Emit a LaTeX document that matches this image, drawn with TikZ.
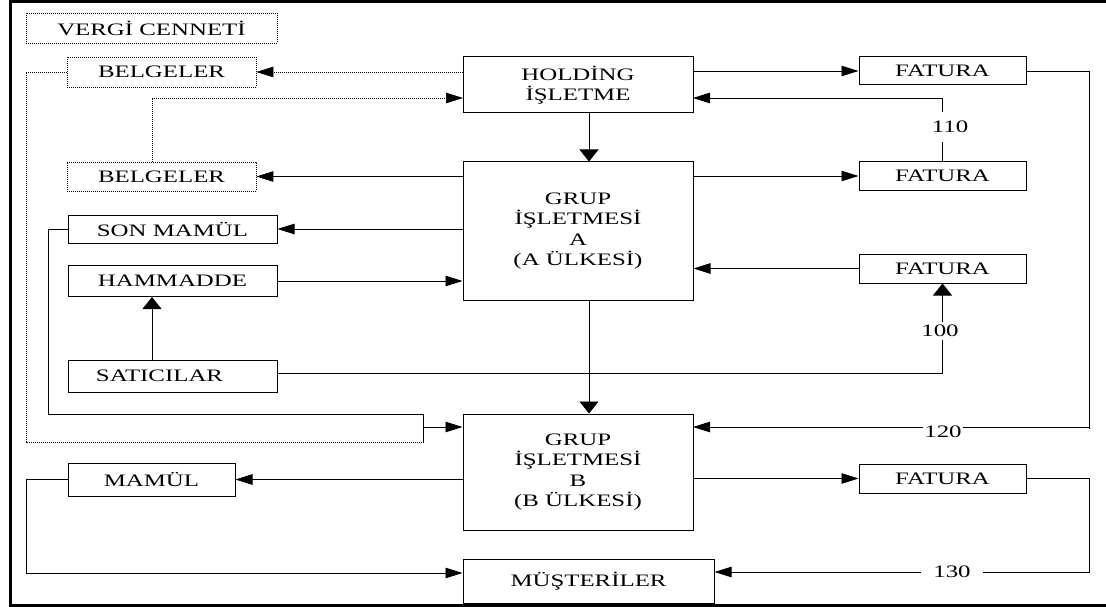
\documentclass[tikz,border=0pt]{standalone}
\usepackage{graphicx}
\usepackage{fontspec}
\setmainfont{Liberation Serif}
\usetikzlibrary{arrows.meta}
\newcommand{\sx}[1]{\scalebox{1.42}[1]{#1}}
\begin{document}
\begin{tikzpicture}[x=1pt,y=-1pt,
  font=\fontsize{17.5}{20.5}\selectfont,
  box/.style={draw=black,line width=1pt,inner sep=0pt,align=center},
  dbox/.style={box,line width=0.7pt,dash pattern=on 0.8pt off 1.2pt},
  conn/.style={draw=black,line width=0.8pt},
  dconn/.style={draw=black,line width=0.7pt,dash pattern=on 0.8pt off 1.2pt},
  harr/.style={-{Triangle[length=17pt,width=10.5pt]}},
  varr/.style={-{Triangle[length=12pt,width=19pt]}},
  lbl/.style={fill=white,inner xsep=1pt,inner ysep=1pt}]
\useasboundingbox (0,0) rectangle (1106,607);
% frame
\draw[line width=3pt] (10,620) -- (10,1.5) -- (1120,1.5);
\draw[line width=3pt] (8.5,605.5) -- (1120,605.5);
% nodes
\node[dbox,minimum width=251pt,minimum height=30pt] (vc) at (151.5,28) {\sx{VERGİ CENNETİ}};
\node[dbox,minimum width=189pt,minimum height=30pt] (bel1) at (161.5,72) {\sx{BELGELER}};
\node[dbox,minimum width=189pt,minimum height=29pt] (bel2) at (161.5,176.5) {\sx{BELGELER}};
\node[box,minimum width=209pt,minimum height=28pt] (son) at (172.5,229) {\sx{SON MAMÜL}};
\node[box,minimum width=209pt,minimum height=31pt] (ham) at (172.5,281) {\sx{HAMMADDE}};
\node[box,minimum width=209pt,minimum height=32pt] (sat) at (172.5,376) {};
\node at ([xshift=-13pt]sat.center) {\sx{SATICILAR}};
\node[box,minimum width=167pt,minimum height=33pt] (mam) at (151.5,479.5) {\sx{MAMÜL}};
\node[box,minimum width=230pt,minimum height=56pt] (hold) at (578,85) {\sx{HOLDİNG}\\\sx{İŞLETME}};
\node[box,minimum width=230pt,minimum height=138pt] (grpA) at (578,231) {\sx{GRUP}\\\sx{İŞLETMESİ}\\\sx{A}\\\sx{(A ÜLKESİ)}};
\node[box,minimum width=230pt,minimum height=116pt] (grpB) at (578,472) {\sx{GRUP}\\\sx{İŞLETMESİ}\\\sx{B}\\\sx{(B ÜLKESİ)}};
\node[box,minimum width=251pt,minimum height=44pt] (mus) at (588.5,581) {\sx{MÜŞTERİLER}};
\node[box,minimum width=167pt,minimum height=28pt] (fat1) at (942.5,71) {\sx{FATURA}};
\node[box,minimum width=167pt,minimum height=28pt] (fat2) at (942.5,176) {\sx{FATURA}};
\node[box,minimum width=167pt,minimum height=29pt] (fat3) at (942.5,268.5) {\sx{FATURA}};
\node[box,minimum width=167pt,minimum height=29pt] (fat4) at (942.5,478.5) {\sx{FATURA}};
% helper coordinates
\coordinate (h98) at (693,98);
\coordinate (h98w) at (463,98);
\coordinate (rt) at (1089,71);
\coordinate (b427) at (693,427);
\coordinate (j) at (423,427);
\coordinate (sl) at (48,229);
\coordinate (dl) at (26,72);
\coordinate (ml) at (26,479.5);
\coordinate (rb) at (1089,478.5);
% connectors
\draw[conn,harr] (hold.east |- fat1.west) -- (fat1.west);
\draw[conn,harr] (fat2.north) |- (h98);
\draw[conn,harr] (fat1.east) -- (rt) |- (b427);
\draw[conn] (rt |- b427) -- ++(0,2);
\draw[conn,varr] ([xshift=11pt]hold.south) -- ([xshift=11pt]grpA.north);
\draw[conn,varr] ([xshift=11pt]grpA.south) -- ([xshift=11pt]grpB.north);
\draw[conn,harr] (grpA.west |- bel2.east) -- (bel2.east);
\draw[conn,harr] (grpA.east |- fat2.west) -- (fat2.west);
\draw[conn,harr] (grpA.west |- son.east) -- (son.east);
\draw[conn,harr] (ham.east) -- (grpA.west |- ham.east);
\draw[conn,harr] (fat3.west) -- (grpA.east |- fat3.west);
\draw[conn,varr] ([xshift=-20.5pt]sat.north) -- ([xshift=-20.5pt]ham.south);
\draw[conn,varr] ([yshift=3pt]sat.east) -| (fat3.south);
\draw[conn] (son.west) -- (sl) |- (423,414) -- (423,443);
\draw[conn,harr] (j) -- (j -| grpB.west);
\draw[dconn] (bel1.west) -- (dl) |- (423,442);
\draw[dconn,harr] ([xshift=-9.5pt]bel2.north) |- (h98w);
\draw[dconn,harr] (hold.west |- bel1.east) -- (bel1.east);
\draw[conn,harr] (grpB.west |- mam.east) -- (mam.east);
\draw[conn,harr] (mam.west) -- (ml) |- ([yshift=8pt]mus.west);
\draw[conn,harr] (grpB.east |- fat4.west) -- (fat4.west);
\draw[conn,harr] (fat4.east) -- (rb) |- ([yshift=9pt]mus.east);
% labels
\node[lbl,inner ysep=9pt] (l110) at (950,127) {\sx{110}};
\node[lbl,inner ysep=3pt] (l100) at (940,331) {\sx{100}};
\node[lbl] (l120) at (943,432) {\sx{120}};
\node[lbl,inner xsep=12pt] (l130) at (952,572) {\sx{130}};
\end{tikzpicture}
\end{document}
